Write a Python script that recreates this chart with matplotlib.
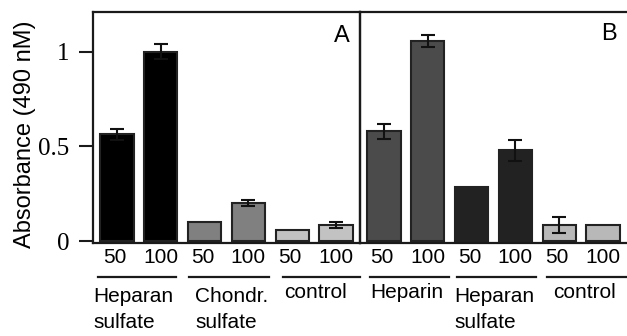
import numpy as np
import matplotlib
matplotlib.use('Agg')
from matplotlib import pyplot as plt

plt.rcParams['font.family'] = 'Liberation Sans'

# panel A
doses = ['50', '100', '50', '100', '50', '100']
a_vals = [0.564, 1.0, 0.10, 0.20, 0.058, 0.085]
a_err = [0.03, 0.04, 0.0, 0.015, 0.0, 0.015]
a_colors = ['#000000', '#000000', '#808080', '#808080', '#c2c2c2', '#c2c2c2']
# panel B
b_vals = [0.58, 1.056, 0.285, 0.48, 0.085, 0.085]
b_err = [0.04, 0.03, 0.0, 0.055, 0.04, 0.0]
b_colors = ['#4b4b4b', '#4b4b4b', '#222222', '#222222', '#b8b8b8', '#b8b8b8']

W, H = 627, 336
fig = plt.figure(figsize=(W / 100, H / 100), dpi=100)
ax_bottom = (H - 243) / H
ax_h = (243 - 12) / H
axA = fig.add_axes([93 / W, ax_bottom, (360 - 93) / W, ax_h])
axB = fig.add_axes([360 / W, ax_bottom, (627 - 360) / W, ax_h])
axB.patch.set_facecolor('none')

x = np.arange(6)
edge = '#222222'
for ax, vals, err, cols in [(axA, a_vals, a_err, a_colors), (axB, b_vals, b_err, b_colors)]:
    ax.bar(x, vals, width=0.76, color=cols, edgecolor=edge, linewidth=1.5, zorder=2)
    err = np.array(err)
    m = err > 0
    ax.errorbar(x[m], np.array(vals)[m], yerr=err[m], fmt='none', ecolor='#111111',
                elinewidth=1.5, capsize=5, capthick=1.5, zorder=3)
    ax.set_xlim(-0.55, 5.55)
    ax.set_ylim(-0.01, 1.21)
    ax.set_xticks([])
    for s in ax.spines.values():
        s.set_linewidth(1.6)
        s.set_color('#1a1a1a')
    tr = ax.get_xaxis_transform()
    for xi, d in zip(x, doses):
        ax.text(xi - 0.05 if d == '50' else xi, -0.088, d, transform=tr, ha='center',
                va='baseline', fontsize=15)

axB.spines['right'].set_visible(False)
axB.set_yticks([])

axA.set_yticks([0, 0.5, 1])
axA.set_yticklabels(['0', '0.5', '1'], fontfamily='Liberation Serif', fontsize=18)
axA.tick_params(axis='y', length=10, width=1.5, pad=7, color='#1a1a1a')

# group lines
trA = axA.get_xaxis_transform()
trB = axB.get_xaxis_transform()
line_y = -0.147
for x0, x1 in [(-0.43, 1.35), (1.65, 3.46), (3.78, 5.56)]:
    axA.plot([x0, x1], [line_y, line_y], transform=trA, color='#1a1a1a', lw=1.6, clip_on=False)
for x0, x1 in [(-0.32, 1.48), (1.67, 3.47), (3.72, 5.6)]:
    axB.plot([x0, x1], [line_y, line_y], transform=trB, color='#1a1a1a', lw=1.6, clip_on=False)

# group labels
def ypix(py):
    return ((H - py) / H - ax_bottom) / ax_h

axA.text(-0.55, ypix(302), 'Heparan', transform=trA, ha='left', va='baseline', fontsize=15)
axA.text(-0.55, ypix(328), 'sulfate', transform=trA, ha='left', va='baseline', fontsize=15)
axA.text(1.78, ypix(302), 'Chondr.', transform=trA, ha='left', va='baseline', fontsize=15)
axA.text(1.78, ypix(328), 'sulfate', transform=trA, ha='left', va='baseline', fontsize=15)
axA.text(4.53, ypix(298), 'control', transform=trA, ha='center', va='baseline', fontsize=15)
axB.text(0.51, ypix(298), 'Heparin', transform=trB, ha='center', va='baseline', fontsize=15)
axB.text(1.6, ypix(302), 'Heparan', transform=trB, ha='left', va='baseline', fontsize=15)
axB.text(1.6, ypix(328), 'sulfate', transform=trB, ha='left', va='baseline', fontsize=15)
axB.text(4.58, ypix(298), 'control', transform=trB, ha='center', va='baseline', fontsize=15)

# panel letters
axA.text(0.963, 0.870, 'A', transform=axA.transAxes, ha='right', va='baseline', fontsize=17)
axB.text(0.963, 0.879, 'B', transform=axB.transAxes, ha='right', va='baseline', fontsize=17)

fig.text(25 / W, (H - 134) / H, 'Absorbance (490 nM)', rotation=90, ha='center', va='center', fontsize=17)

fig.savefig('out.png', dpi=100)
